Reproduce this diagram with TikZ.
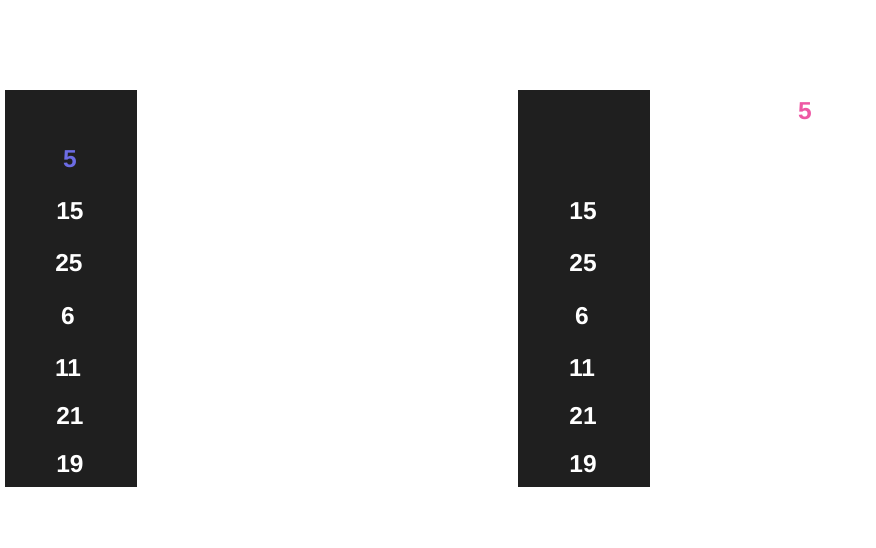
\documentclass[tikz,border=0pt]{standalone}
\usepackage{fontspec}
\setmainfont{Liberation Sans}
\definecolor{colbg}{RGB}{31,31,31}
\definecolor{numpurple}{RGB}{108,108,228}
\definecolor{numpink}{RGB}{238,88,164}
\tikzset{
  col/.style={fill=colbg, draw=none},
  num/.style={font=\fontsize{24.5}{28}\selectfont\bfseries, text=white, anchor=base, inner sep=0pt},
}
\begin{document}
\begin{tikzpicture}[x=1pt,y=-1pt]
\useasboundingbox (0,0) rectangle (876,548);
\fill[col] (5,90) rectangle (137,487);
\fill[col] (518,90) rectangle (650,487);
% left column
\node[num, text=numpurple] (l1) at (70,168) {5};
\node[num] (l2) at (70,220) {15};
\node[num] (l3) at (69,272) {25};
\node[num] (l4) at (68,324) {6};
\node[num] (l5) at (68,376) {11};
\node[num] (l6) at (70,424) {21};
\node[num] (l7) at (70,472) {19};
% right column
\node[num] (r2) at (583,220) {15};
\node[num] (r3) at (583,272) {25};
\node[num] (r4) at (582,324) {6};
\node[num] (r5) at (582,376) {11};
\node[num] (r6) at (583,424) {21};
\node[num] (r7) at (583,472) {19};
% moved element
\node[num, text=numpink] (p) at (805,120) {5};
\end{tikzpicture}
\end{document}
